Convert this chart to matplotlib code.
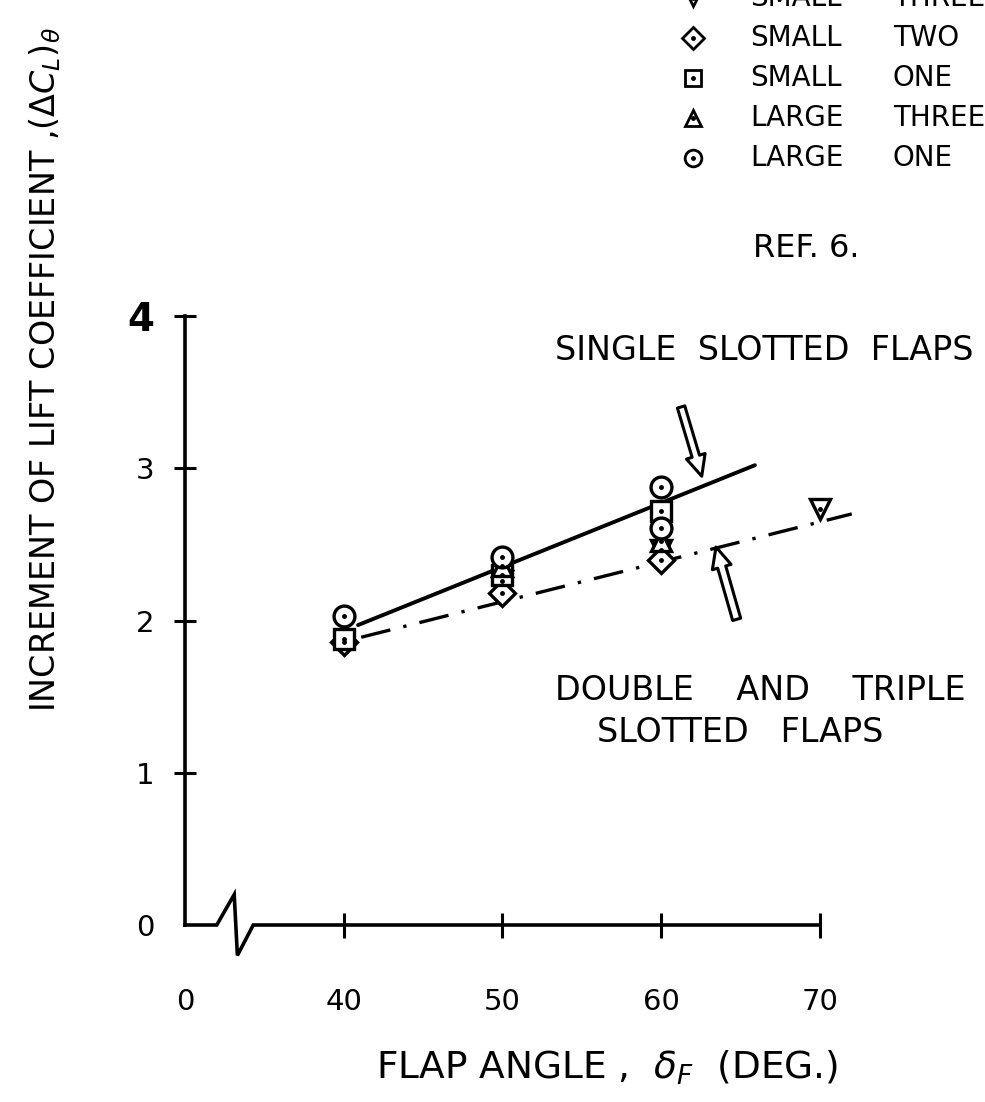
import numpy as np
import matplotlib.pyplot as plt
from matplotlib.lines import Line2D

# data (flap angle in deg, delta CL)
small_three_x = [50, 60, 70]
small_three_y = [2.26, 2.46, 2.73]
small_two_x = [40, 50, 60]
small_two_y = [1.86, 2.18, 2.40]
small_one_x = [40, 50, 60]
small_one_y = [1.88, 2.30, 2.72]
large_three_x = [50, 60]
large_three_y = [2.36, 2.52]
large_one_x = [40, 50, 60, 60]
large_one_y = [2.03, 2.42, 2.88, 2.61]

# fairings
single_x = [40.9, 65.9]
single_y = [1.97, 3.02]
multi_x = [41.1, 72.0]
multi_y = [1.89, 2.70]

legend_sizes = ["SMALL", "SMALL", "SMALL", "LARGE", "LARGE"]
legend_slots = ["THREE", "TWO", "ONE", "THREE", "ONE"]
legend_markers = ["v", "D", "s", "^", "o"]

xtick_pos = [30, 40, 50, 60, 70]
xtick_lab = ["0", "40", "50", "60", "70"]
ytick_pos = [0, 1, 2, 3, 4]
ytick_lab = ["0", "1", "2", "3", "4"]

W, H = 985, 1102
fig = plt.figure(figsize=(W / 100, H / 100), dpi=100)

def fx(px):
    return px / W

def fy(py):
    return 1 - py / H

# axes box in pixels: x 30->185 px, 70->820 px ; y 0->925 px, 4->316 px
xs = (820 - 185) / 40.0
ys = (925 - 316) / 4.0
xlo, xhi = 28, 74
ylo, yhi = -0.5, 4.5
left = 185 - (30 - xlo) * xs
right = 185 + (xhi - 30) * xs
bottom = 925 + (0 - ylo) * ys
top = 925 - (yhi - 0) * ys
ax = fig.add_axes([fx(left), fy(bottom), (right - left) / W, (bottom - top) / H])
ax.set_xlim(xlo, xhi)
ax.set_ylim(ylo, yhi)

for s in ["top", "right", "bottom"]:
    ax.spines[s].set_visible(False)
ax.spines["left"].set_position(("data", 30))
ax.spines["bottom"].set_position(("data", 0))
ax.spines["left"].set_bounds(0, 4)
ax.spines["left"].set_linewidth(2.6)

# broken x axis
ax.plot([30, 32.0, 33.1, 33.3, 34.3, 70], [0, 0, 0.2, -0.2, 0, 0],
        color="black", lw=2.6, clip_on=False, solid_joinstyle="miter")

ax.set_xticks(xtick_pos)
ax.set_xticklabels(xtick_lab)
ax.set_yticks(ytick_pos)
ax.set_yticklabels(ytick_lab)
ax.tick_params(axis="x", direction="inout", length=18, width=2.2, pad=36, labelsize=21)
ax.tick_params(axis="y", direction="inout", length=16, width=2.2, pad=14, labelsize=21)
ax.xaxis.get_major_ticks()[0].tick1line.set_visible(False)
ax.yaxis.get_major_ticks()[0].tick1line.set_visible(False)
ax.get_yticklabels()[-1].set_fontsize(28)
ax.get_yticklabels()[-1].set_fontweight("bold")

# fit lines
ax.plot(single_x, single_y, color="black", lw=2.8, solid_capstyle="round")
ax.plot(multi_x, multi_y, color="black", lw=2.4, linestyle=(0, (9, 4, 1, 4)))

# data points
series = [
    (small_three_x, small_three_y, "v"),
    (small_two_x, small_two_y, "D"),
    (small_one_x, small_one_y, "s"),
    (large_three_x, large_three_y, "^"),
    (large_one_x, large_one_y, "o"),
]
for xv, yv, m in series:
    ms = 13 if m == "D" else 15
    ax.plot(xv, yv, linestyle="none", marker=m, ms=ms, mfc="white",
            mec="black", mew=2.4, clip_on=False, zorder=3)
    ax.plot(xv, yv, linestyle="none", marker="o", ms=2.5, color="black",
            clip_on=False, zorder=4)

# arrows pointing at the fairings
ax.annotate("", xy=(62.6, 2.93), xytext=(61.2, 3.42),
            arrowprops=dict(arrowstyle="simple,head_length=1.5,head_width=1.4,tail_width=0.55",
                            fc="white", ec="black", lw=2.2))
ax.annotate("", xy=(63.4, 2.50), xytext=(64.8, 1.99),
            arrowprops=dict(arrowstyle="simple,head_length=1.5,head_width=1.4,tail_width=0.6",
                            fc="white", ec="black", lw=2.2))

txt = dict(fontsize=24, color="black", va="center", ha="left")
fig.text(fx(555), fy(350), "SINGLE  SLOTTED  FLAPS", **txt)
fig.text(fx(555), fy(690), "DOUBLE    AND    TRIPLE", **txt)
fig.text(fx(597), fy(732), "SLOTTED   FLAPS", **txt)
fig.text(fx(753), fy(248), "REF. 6.", fontsize=23, va="center", ha="left")

# legend (top right, first row partly cut by the page edge)
leg = dict(fontsize=20, color="black", va="center", ha="left")
for i, (sz, sl, m) in enumerate(zip(legend_sizes, legend_slots, legend_markers)):
    yy = fy(-2 + 40 * i)
    ms = 11 if m == "D" else 12
    fig.add_artist(Line2D([fx(693)], [yy], marker=m, ms=ms, mfc="white",
                          mec="black", mew=2, linestyle="none"))
    fig.add_artist(Line2D([fx(693)], [yy], marker="o", ms=2.5, color="black",
                          linestyle="none"))
    fig.text(fx(750), yy, sz, **leg)
    fig.text(fx(893), yy, sl, **leg)

fig.text(fx(45), fy(370), r"INCREMENT OF LIFT COEFFICIENT ,$(\Delta C_L)_\theta$",
         rotation=90, fontsize=24, ha="center", va="center")
fig.text(fx(607), fy(1068), r"FLAP ANGLE ,  $\delta_F$  (DEG.)",
         fontsize=27, ha="center", va="center")

fig.savefig("out.png", dpi=100)
